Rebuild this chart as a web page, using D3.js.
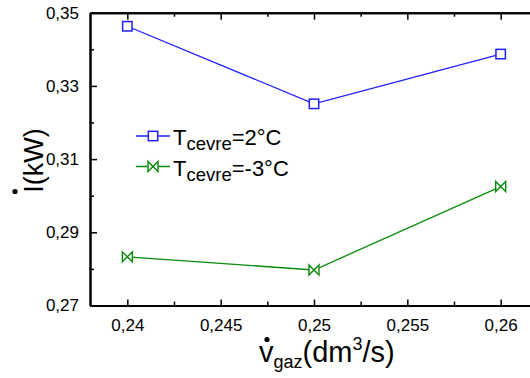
<!DOCTYPE html>
<html>
<head>
<meta charset="utf-8">
<script src="https://cdn.jsdelivr.net/npm/d3@7/dist/d3.min.js"></script>
<style>
  html, body { margin: 0; padding: 0; background: #fff; }
  svg { display: block; font-family: "Liberation Sans", Arial, sans-serif; }
</style>
</head>
<body>
<svg id="chart" width="530" height="378"></svg>
<script>
// Gas flow rate (dm3/s) on the x axis
const flowRates = [0.24, 0.25, 0.26];
// Exergy destruction rate (kW) for each ambient temperature
const seriesWarm = [0.3463, 0.3251, 0.3387];   // T_cevre = 2°C
const seriesCold = [0.2833, 0.2797, 0.3025];   // T_cevre = -3°C
const seriesNames = ["=2°C", "=-3°C"];
const xTickValues = [0.24, 0.245, 0.25, 0.255, 0.26];
const xMinorValues = [0.2425, 0.2475, 0.2525, 0.2575];
const yTickValues = [0.27, 0.29, 0.31, 0.33, 0.35];
const yMinorValues = [0.28, 0.30, 0.32, 0.34];

const svg = d3.select("#chart");
const plotLeft = 90, plotTop = 12.7, plotBottom = 305.5, plotRight = 538;

const x = d3.scaleLinear().domain([0.238, 0.262]).range([plotLeft, plotRight]);
const y = d3.scaleLinear().domain([0.27, 0.35]).range([plotBottom, plotTop]);

const fmt = d => String(+d.toFixed(3)).replace(".", ",");

// Axes with inward ticks
function styleAxis(g) {
  g.select(".domain").attr("stroke", "#000").attr("stroke-width", 2);
  g.selectAll(".tick line").attr("stroke", "#000").attr("stroke-width", 1.5);
  g.selectAll("text").attr("fill", "#000").style("font-size", "17px");
}

svg.append("g").attr("transform", `translate(0,${plotBottom})`)
  .call(d3.axisBottom(x).tickValues(xTickValues).tickSize(-6).tickSizeOuter(0).tickPadding(13).tickFormat(fmt))
  .call(styleAxis);
svg.append("g").attr("transform", `translate(0,${plotBottom})`)
  .call(d3.axisBottom(x).tickValues(xMinorValues).tickSize(-4).tickSizeOuter(0).tickFormat(""))
  .call(styleAxis);
svg.append("g").attr("transform", `translate(0,${plotTop})`)
  .call(d3.axisTop(x).tickValues(xTickValues).tickSize(-7).tickSizeOuter(0).tickFormat(""))
  .call(styleAxis);
svg.append("g").attr("transform", `translate(0,${plotTop})`)
  .call(d3.axisTop(x).tickValues(xMinorValues).tickSize(-4).tickSizeOuter(0).tickFormat(""))
  .call(styleAxis);
svg.append("g").attr("transform", `translate(${plotLeft},0)`)
  .call(d3.axisLeft(y).tickValues(yTickValues).tickSize(-7).tickSizeOuter(0).tickPadding(11).tickFormat(fmt))
  .call(styleAxis);
svg.append("g").attr("transform", `translate(${plotLeft},0)`)
  .call(d3.axisLeft(y).tickValues(yMinorValues).tickSize(-4).tickSizeOuter(0).tickFormat(""))
  .call(styleAxis);

// Series
const blue = "#1f1fff", green = "#0a8a0a";
const bowtie = "M-5,-5L-5,5L5,-5L5,5Z";
const line = d3.line().x((d, i) => x(flowRates[i])).y(d => y(d));

function drawSeries(values, color, marker) {
  svg.append("path").datum(values).attr("d", line)
    .attr("fill", "none").attr("stroke", color).attr("stroke-width", 1.3);
  const pts = svg.append("g").selectAll("g").data(values).join("g")
    .attr("transform", (d, i) => `translate(${x(flowRates[i])},${y(d)})`);
  marker(pts, color);
}
const squareMarker = (sel, color) => sel.append("rect")
  .attr("x", -4.7).attr("y", -4.7).attr("width", 9.4).attr("height", 9.4)
  .attr("fill", "#fff").attr("stroke", color).attr("stroke-width", 1.5);
const bowtieMarker = (sel, color) => sel.append("path")
  .attr("d", bowtie).attr("fill", "#fff").attr("stroke", color).attr("stroke-width", 1.4);

drawSeries(seriesWarm, blue, squareMarker);
drawSeries(seriesCold, green, bowtieMarker);

// Legend
const legendRows = [
  { name: seriesNames[0], color: blue, marker: squareMarker, y: 136 },
  { name: seriesNames[1], color: green, marker: bowtieMarker, y: 166.5 }
];
legendRows.forEach(r => {
  const g = svg.append("g");
  g.append("line").attr("x1", 136).attr("x2", 170).attr("y1", r.y).attr("y2", r.y)
    .attr("stroke", r.color).attr("stroke-width", 1.3);
  r.marker(g.append("g").attr("transform", `translate(153,${r.y})`), r.color);
  const t = g.append("text").attr("x", 173).attr("y", r.y + 9).attr("fill", "#000").style("font-size", "22px");
  t.append("tspan").text("T");
  t.append("tspan").attr("dy", 5).style("font-size", "18.5px").text("cevre");
  t.append("tspan").attr("dy", -5).text(r.name);
});

// X axis title: v̇_gaz (dm³/s)
const xt = svg.append("text").attr("x", 259).attr("y", 362).attr("fill", "#000").style("font-size", "29px");
xt.append("tspan").text("v");
xt.append("tspan").attr("dy", 6).style("font-size", "18px").text("gaz");
xt.append("tspan").attr("dy", -6).text("(dm");
xt.append("tspan").attr("dy", -12).style("font-size", "18px").text("3");
xt.append("tspan").attr("dy", 12).text("/s)");
svg.append("circle").attr("cx", 267).attr("cy", 339.5).attr("r", 2.6).attr("fill", "#000");

// Y axis title: İ (kW)
svg.append("text").attr("transform", "translate(43,160.5) rotate(-90)")
  .attr("text-anchor", "middle").attr("fill", "#000").style("font-size", "27px")
  .text("I(kW)");
svg.append("circle").attr("cx", 15).attr("cy", 191.5).attr("r", 2.6).attr("fill", "#000");
</script>
</body>
</html>
